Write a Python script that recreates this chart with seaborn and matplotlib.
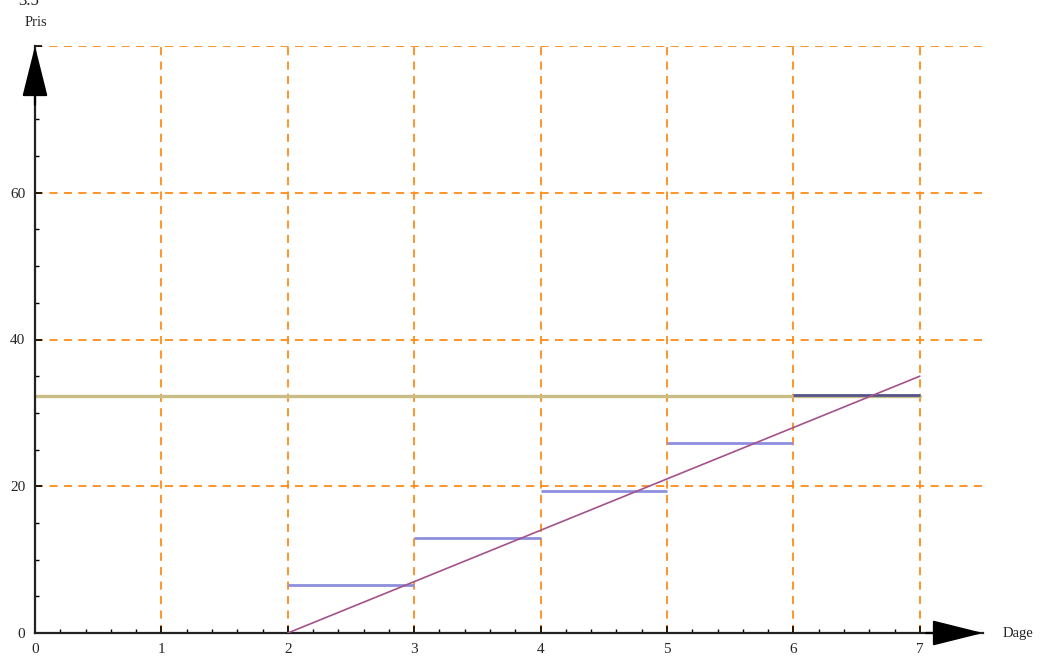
import numpy as np
import pandas as pd
import seaborn as sns
import matplotlib.pyplot as plt

# data
cost_days = [2, 7]
cost_price = [0, 35]
flat_days = [0, 7]
flat_price = [32.3, 32.3]
step_start = [2, 3, 4, 5, 6]
step_end = [3, 4, 5, 6, 7]
step_price = [6.5, 12.9, 19.4, 25.9, 32.4]
step_colors = ['#8e8ede', '#8e8ede', '#8e8ede', '#8e8ede', '#55558c']
x_ticks = [0, 1, 2, 3, 4, 5, 6, 7]
y_ticks = [0, 20, 40, 60, 80]
y_tick_labels = ['0', '20', '40', '60', '']

sns.set_style('white')
plt.rcParams['font.family'] = ['Liberation Serif', 'DejaVu Serif']

fig = plt.figure(figsize=(10.41, 6.59), dpi=100)
ax = fig.add_axes([35 / 1041, 26 / 659, 948 / 1041, 587 / 659])

grid_style = dict(color='#ff8c1a', linewidth=1.3, linestyle=(0, (4.5, 3.5)), zorder=0)
for x in x_ticks[1:]:
    ax.axvline(x, **grid_style)
for y in y_ticks[1:]:
    ax.axhline(y, **grid_style)

flat_df = pd.DataFrame({'Dage': flat_days, 'Pris': flat_price})
sns.lineplot(data=flat_df, x='Dage', y='Pris', color='#c9bd85', linewidth=2.4, ax=ax, zorder=2)
ax.hlines(step_price, step_start, step_end, colors=step_colors, linewidth=2.0, zorder=3)
cost_df = pd.DataFrame({'Dage': cost_days, 'Pris': cost_price})
sns.lineplot(data=cost_df, x='Dage', y='Pris', color='#a4528a', linewidth=1.2, ax=ax, zorder=4)

ax.set_xlim(0, 7.5)
ax.set_ylim(0, 80)
ax.set_xticks(x_ticks)
ax.set_yticks(y_ticks)
ax.set_yticklabels(y_tick_labels)
ax.set_xticks(np.arange(0, 7.01, 0.2), minor=True)
ax.set_yticks(np.arange(0, 80, 5), minor=True)
ax.tick_params(which='major', direction='in', length=5, width=1.2, color='black',
               labelsize=11, bottom=True, left=True)
ax.tick_params(axis='x', which='major', pad=7)
ax.tick_params(axis='y', which='major', pad=7)
ax.tick_params(which='minor', direction='in', length=3, width=1.0, color='black',
               bottom=True, left=True)
ax.set_xlabel('')
ax.set_ylabel('')
for side in ['top', 'right']:
    ax.spines[side].set_visible(False)
for side in ['left', 'bottom']:
    ax.spines[side].set_color('#222222')
    ax.spines[side].set_linewidth(1.6)

# arrow heads on the axes
ax.annotate('', xy=(1, 0), xycoords='axes fraction', xytext=(0.94, 0),
            arrowprops=dict(arrowstyle='-|>,head_length=3.2,head_width=0.8',
                            color='black', shrinkA=0, shrinkB=0, lw=1.6),
            annotation_clip=False)
ax.annotate('', xy=(0, 1), xycoords='axes fraction', xytext=(0, 0.9),
            arrowprops=dict(arrowstyle='-|>,head_length=3.2,head_width=0.8',
                            color='black', shrinkA=0, shrinkB=0, lw=1.6),
            annotation_clip=False)

fig.text(36 / 1041, 1 - 22 / 659, 'Pris', ha='center', va='center', fontsize=10.5)
fig.text(1018 / 1041, 1 - 633 / 659, 'Dage', ha='center', va='center', fontsize=10.5)
fig.text(18 / 1041, 1 - 1 / 659, '3.5', ha='left', va='center', fontsize=12)

fig.savefig('out.png', dpi=100)
